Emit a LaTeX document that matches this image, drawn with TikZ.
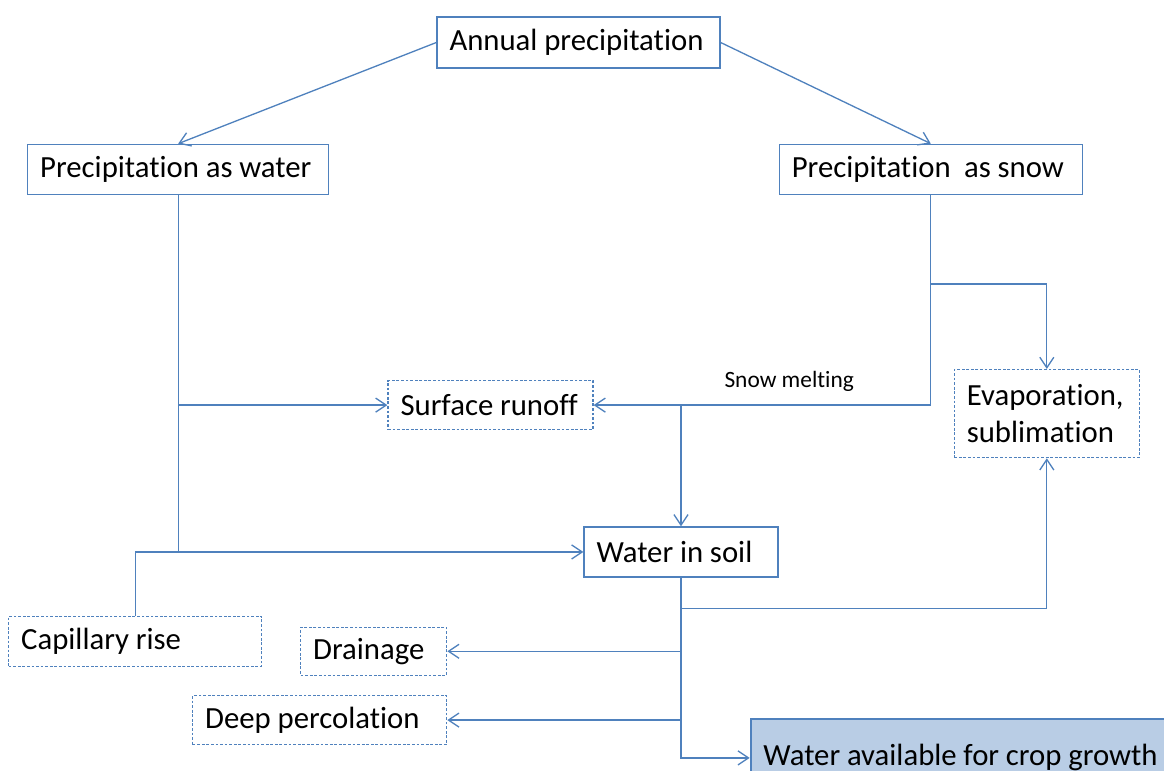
\documentclass[tikz,border=0pt]{standalone}
\usepackage{fontspec}
\setmainfont[Ligatures=NoCommon]{Carlito}
\usepackage{tikz}
\usetikzlibrary{positioning}
\usetikzlibrary{arrows.meta}
\usepackage{xcolor}
\definecolor{lineblue}{RGB}{79,129,189}
\definecolor{cropfill}{RGB}{185,205,229}
\tikzstyle{X} = [rectangle,draw=lineblue,line width=0.75pt,align=left,inner xsep=0.25cm,inner ysep=0pt,font=\fontsize{17.5}{21.5}\selectfont,execute at begin node={\spaceskip=0.22em\relax}]
\tikzstyle{D} = [X,dash pattern=on 1.6pt off 1pt]
\tikzset{>={Straight Barb[length=6pt,width=8pt]}}

\begin{document}
\begin{tikzpicture}[line width=0.75pt,draw=lineblue]
  \useasboundingbox (0,0) rectangle (23.28,-15.42);
  \clip (0,0) rectangle (23.28,-15.42);

  \node [X,text width=5.16cm,minimum height=1.02cm] (n1) at (11.57,-0.85) {\mbox{Annual precipitation}};
  \node [X,text width=5.52cm,minimum height=1cm,below left=1.5cm and 2.14cm of n1] (n2) {\mbox{Precipitation as water}};
  \node [X,text width=5.56cm,minimum height=1cm,below right=1.5cm and 1.16cm of n1] (n3) {\mbox{Precipitation\ \ as snow}};

  \node [D,text width=3.6cm,minimum height=0.98cm,below right=3.7cm and 1.16cm of n2] (n4) {\mbox{Surface runoff}};
  \node [X,text width=3.38cm,minimum height=1cm,below=1.92cm of n4,xshift=3.81cm] (n5) {\mbox{Water in soil}};
  \node [D,text width=3.2cm,minimum height=1.76cm,below=3.48cm of n3,xshift=2.32cm] (n6) {Evaporation,\\sublimation};

  \node [D,text width=4.56cm,minimum height=1cm,below left=0.76cm and 6.42cm of n5] (n7) {\mbox{Capillary rise}};
  \node [D,text width=2.42cm,minimum height=0.96cm,below left=0.98cm and 2.72cm of n5] (n8) {\mbox{Drainage}};
  \node [D,text width=4.58cm,minimum height=0.98cm,below left=0.38cm and 0cm of n8.south east] (n9) {\mbox{Deep percolation}};
  \node [X,text width=7.88cm,minimum height=1.56cm,fill=cropfill,line width=1.5pt,below right=2.8cm and -0.58cm of n5] (n10) {\mbox{Water available for crop growth}};

  \coordinate [below=1.78cm of n3.south] (s1);
  \coordinate [below=0.62cm of n5.south] (s2);

  \draw [->] (n1.west) -- (n2.north);
  \draw [->] (n1.east) -- (n3.north);

  \draw [->] (n2.south) |- (n5.west);
  \draw [->] (n2.south |- n4.west) -- (n4.west);
  \draw (n7.north) |- (n2.south |- n5.west);

  \draw [->] (n3.south) |- (n4.east) node [pos=0.71,above=4pt,font=\fontsize{13.3}{16}\selectfont] (l1) {Snow melting};
  \draw [->] (s1) -| (n6.north);
  \draw [->] (n5.north |- n4.east) -- (n5.north);

  \draw [->] (s2) -| (n6.south);
  \draw [->] (n5.south |- n8.east) -- (n8.east);
  \draw [->] (n5.south |- n9.east) -- (n9.east);
  \draw [->] (n5.south) |- (n10.west);
\end{tikzpicture}
\end{document}
